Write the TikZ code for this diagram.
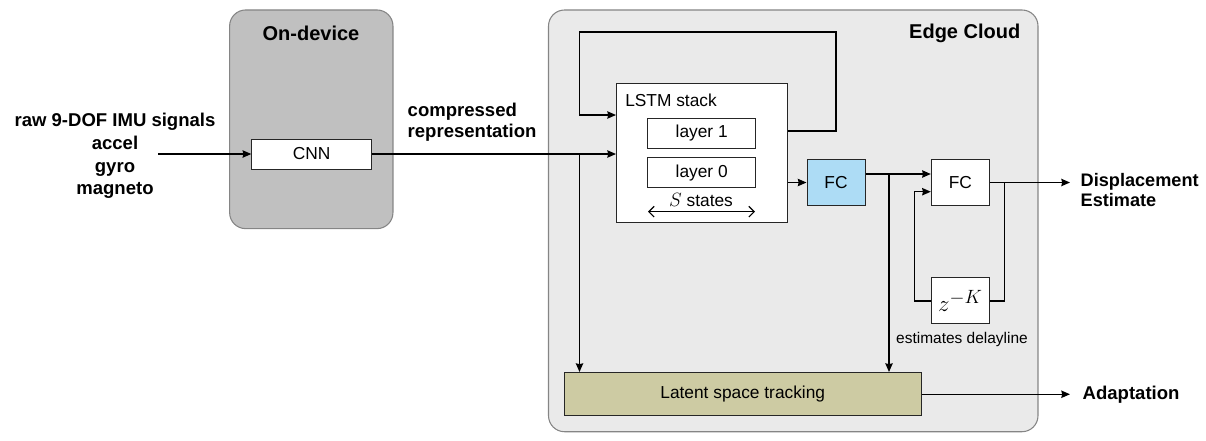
\documentclass[tikz,border=0pt]{standalone}
\usepackage{fontspec}
\setmainfont{Liberation Sans}
\usetikzlibrary{positioning, calc, arrows.meta}

\definecolor{devgray}{HTML}{C0C0C0}
\definecolor{cloudgray}{HTML}{EAEAEA}
\definecolor{fcblue}{HTML}{ADDCF5}
\definecolor{latentolive}{HTML}{CDCBA3}
\definecolor{zoneline}{HTML}{858585}

\begin{document}
\begin{tikzpicture}[
    x=0.75pt, y=-0.75pt,
    node distance=6.3pt and 49pt,
    zone/.style={rectangle, draw=zoneline, line width=0.8pt, rounded corners=12pt},
    box/.style={rectangle, draw=black!85, line width=0.75pt, fill=white, inner sep=0pt, font=\fontsize{13}{15}\selectfont},
    txt/.style={inner sep=0pt, font=\fontsize{13}{15}\selectfont},
    title/.style={font=\bfseries\fontsize{15}{18}\selectfont},
    tag/.style={font=\bfseries\fontsize{13.9}{17}\selectfont},
    arrow/.style={line width=1.1pt, -{Stealth[length=6.5pt, width=5.5pt, inset=0.6pt]}}
]
\useasboundingbox (0,0) rectangle (1206,440);

% Zones
\node[zone, fill=devgray, minimum width=122.5pt, minimum height=164pt] (ondev) at (311.3,119.3) {};
\node[zone, fill=cloudgray, minimum width=367.1pt, minimum height=316.3pt] (edge) at (793.25,220.85) {};
\node[title] (ondevlbl) at (311,33) {On-device};
\node[title, anchor=east] (edgelbl) at (1025,33) {Edge Cloud};

% Nodes
\node[tag, align=center] (raw) at (115,156) {raw 9-DOF IMU signals\\accel\\gyro\\magneto};
\node[box, minimum width=89.7pt, minimum height=22.5pt] (cnn) at (311.6,154) {CNN};
\node[tag, align=left, anchor=west, font=\bfseries\fontsize{13.9}{15.5}\selectfont] (comp) at (403,122) {compressed\\representation};

\node[box, minimum width=128.4pt, minimum height=104.6pt] (lstm) at (702.1,153) {};
\node[txt, anchor=west] (lstmlbl) at (625,100) {LSTM stack};
\node[box, minimum width=80.6pt, minimum height=22.5pt] (layer1) at (701.7,133.3) {layer 1};
\node[box, minimum width=80.6pt, minimum height=22.5pt, below=of layer1] (layer0) {layer 0};
\node[txt] (states) at (701,200) {{\fontsize{15}{15}\selectfont$S$} states};

\node[box, fill=fcblue, minimum width=43.5pt, minimum height=33.8pt] (fc1) at (836,182.5) {FC};
\node[box, minimum width=43.5pt, minimum height=33.8pt, right=of fc1] (fc2) {FC};
\node[box, minimum width=43.5pt, minimum height=34.5pt, below=53.8pt of fc2, font=\fontsize{19}{22}\selectfont] (delay) {$z^{-K}$};
\node[txt, font=\fontsize{11.6}{14}\selectfont] (delaylbl) at (962,339) {estimates delayline};

\node[box, fill=latentolive, minimum width=267.4pt, minimum height=32.6pt] (latent) at (742.75,394.25) {Latent space tracking};

\node[tag, align=left, anchor=west, font=\bfseries\fontsize{13.6}{15}\selectfont] (disp) at (1076,190) {Displacement\\Estimate};
\node[tag, anchor=west] (adapt) at (1078,395) {Adaptation};

% Coordinates
\coordinate (in) at (158,154);
\coordinate (split1) at (579.5,154);
\coordinate (loopR) at (836,32);
\coordinate (loopL) at (579.5,32);
\coordinate (split2) at (889,174);
\coordinate (split3) at (1004.3,182.5);
\coordinate (fbK) at (914.7,191.7);
\coordinate (out1) at (1070,182.5);
\coordinate (out2) at (1070,394.25);
\coordinate (sL) at (648,211.7);
\coordinate (sR) at (755,211.7);

% Arrows
\draw[arrow] (in) -- (cnn);
\draw[arrow] (cnn) -- (cnn -| lstm.west);
\draw[arrow] (split1) -- (split1 |- latent.north);
\draw[arrow] (lstm.east |- 0,131) -| (loopR) -- (loopL) |- (lstm.west |- 0,115);
\draw[arrow] (lstm.east |- fc1) -- (fc1);
\draw[arrow] (fc1.east |- split2) -- (fc2.west |- split2);
\draw[arrow] (split2) -- (split2 |- latent.north);
\draw[arrow] (fc2) -- (out1);
\draw[line width=1.1pt] (split3) |- (delay.east);
\draw[arrow] (delay.west) -| (fbK) -- (fbK -| fc2.west);
\draw[arrow] (latent) -- (out2);
\draw[line width=0.9pt, {Straight Barb[length=4pt]}-{Straight Barb[length=4pt]}] (sL) -- (sR);

\end{tikzpicture}
\end{document}
